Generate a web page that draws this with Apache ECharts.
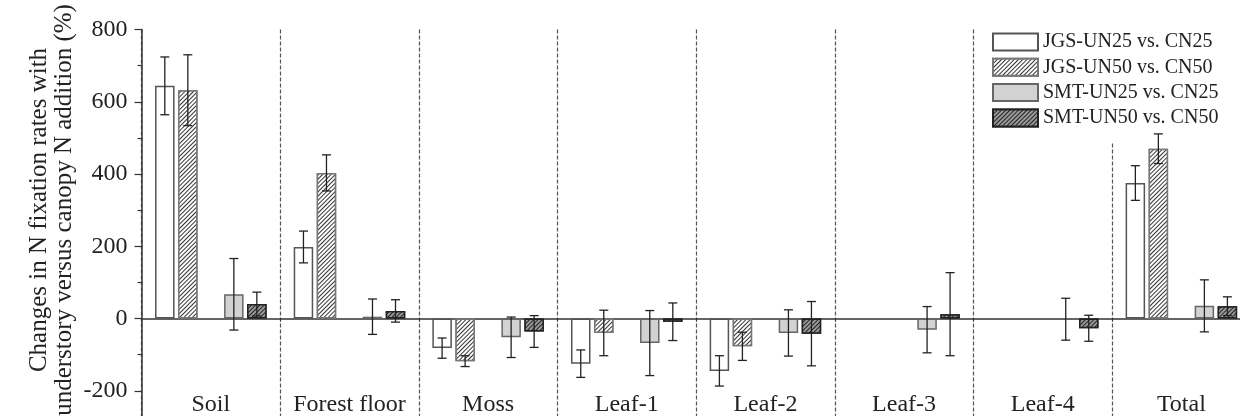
<!DOCTYPE html>
<html>
<head>
<meta charset="utf-8">
<script src="https://cdn.jsdelivr.net/npm/echarts@6/dist/echarts.min.js"></script>
<style>
html,body{margin:0;padding:0;background:#fff;}
#chart{width:1240px;height:416px;}
</style>
</head>
<body>
<div id="chart"></div>
<script>
// ---- data ----
const categories = ['Soil', 'Forest floor', 'Moss', 'Leaf-1', 'Leaf-2', 'Leaf-3', 'Leaf-4', 'Total'];
const seriesNames = ['JGS-UN25 vs. CN25', 'JGS-UN50 vs. CN50', 'SMT-UN25 vs. CN25', 'SMT-UN50 vs. CN50'];
const jgs25 = [644, 198, -82, -125, -145, null, null, 375];
const jgs25Err = [80, 44, 28, 38, 42, null, null, 48];
const jgs50 = [632, 403, -118, -40, -77, null, null, 470];
const jgs50Err = [98, 50, 15, 63, 39, null, null, 41];
const smt25 = [67, 5, -52, -68, -40, -31, -2, 35];
const smt25Err = [99, 49, 56, 90, 64, 64, 58, 72];
const smt50 = [40, 21, -36, -9, -42, 12, -27, 34];
const smt50Err = [33, 31, 44, 52, 89, 115, 36, 26];
const yTicks = [-400, 800, 200];

// ---- styles ----
const FONT = 'Liberation Serif';
const BAR_W = 19.5;
const GAP = 0.18;
const STEP = BAR_W * (1 + GAP);

const hatch = (lineColor, bg) => ({symbol: 'rect', symbolSize: 1, dashArrayX: [1, 0], dashArrayY: [1, 1.7],
  rotation: -Math.PI / 4, color: lineColor, backgroundColor: bg});

const styles = [
  {color: '#ffffff', borderColor: '#555', borderWidth: 1.5},
  {color: '#ffffff', borderColor: '#777', borderWidth: 1.5, decal: hatch('#333333', '#ffffff')},
  {color: '#d2d2d2', borderColor: '#666', borderWidth: 1.5},
  {color: '#9a9a9a', borderColor: '#222', borderWidth: 1.5, decal: hatch('#222222', '#9a9a9a')}
];

const values = [jgs25, jgs50, smt25, smt50];
const errors = [jgs25Err, jgs50Err, smt25Err, smt50Err];
const offsets = [-2, -1, 1, 2];

const series = [];
values.forEach((vals, s) => {
  series.push({
    name: seriesNames[s], type: 'bar', data: vals, barWidth: BAR_W, barGap: (GAP * 100) + '%',
    itemStyle: styles[s], z: 2
  });
  if (s === 1) {
    series.push({name: '_blank', type: 'bar', data: categories.map(() => null), barWidth: BAR_W, barGap: (GAP * 100) + '%'});
  }
});

const errData = [];
values.forEach((vals, s) => {
  vals.forEach((v, i) => {
    if (v !== null && errors[s][i] !== null) errData.push([i, v, errors[s][i], offsets[s]]);
  });
});

series.push({
  type: 'custom', name: '_err', z: 10, silent: true,
  data: errData,
  encode: {x: 0, y: 1},
  renderItem: function (params, api) {
    const ci = api.value(0), v = api.value(1), e = api.value(2), k = api.value(3);
    const hi = api.coord([ci, v + e]);
    const lo = api.coord([ci, v - e]);
    const x = hi[0] + k * STEP;
    const cap = 4.5;
    const st = {stroke: '#222', lineWidth: 1.3};
    return {type: 'group', children: [
      {type: 'line', shape: {x1: x, y1: hi[1], x2: x, y2: lo[1]}, style: st},
      {type: 'line', shape: {x1: x - cap, y1: hi[1], x2: x + cap, y2: hi[1]}, style: st},
      {type: 'line', shape: {x1: x - cap, y1: lo[1], x2: x + cap, y2: lo[1]}, style: st}
    ]};
  }
});

const chart = echarts.init(document.getElementById('chart'), null, {renderer: 'canvas'});
chart.setOption({
  animation: false,
  backgroundColor: '#fff',
  grid: {left: 141.5, right: -10.7, top: 29.5, bottom: -47, containLabel: false, outerBoundsMode: 'none'},
  legend: {
    data: seriesNames, orient: 'vertical', left: 987, top: 27,
    icon: 'rect', itemWidth: 45, itemHeight: 17, itemGap: 5.3,
    padding: [5, 5, 15, 5], backgroundColor: '#ffffff',
    textStyle: {fontFamily: FONT, fontSize: 20, color: '#222'},
    selectedMode: false
  },
  xAxis: [{
    type: 'category', data: categories,
    axisLine: {onZero: true, lineStyle: {color: '#333', width: 1.5}},
    axisTick: {show: true, length: 3, lineStyle: {color: '#333'}},
    axisLabel: {show: false},
    splitLine: {show: true, interval: 0, lineStyle: {color: '#555', type: [4, 2], width: 1.2}}
  }, {
    type: 'category', data: categories, position: 'bottom', offset: -78,
    axisLine: {show: false}, axisTick: {show: false}, splitLine: {show: false},
    axisLabel: {fontFamily: FONT, fontSize: 24, color: '#222', margin: 8, interval: 0}
  }],
  yAxis: {
    type: 'value', min: yTicks[0], max: yTicks[1], interval: yTicks[2],
    axisLine: {show: true, onZero: false, lineStyle: {color: '#333', width: 1.5}},
    axisTick: {show: true, length: 7, lineStyle: {color: '#333', width: 1.2}},
    minorTick: {show: true, splitNumber: 2, length: 4, lineStyle: {color: '#333', width: 1.2}},
    axisLabel: {fontFamily: FONT, fontSize: 24, color: '#222', margin: 14,
      formatter: v => (v < -200 ? '' : String(v))},
    splitLine: {show: false}
  },
  graphic: [{
    type: 'text', x: 52, y: 210, rotation: Math.PI / 2,
    style: {text: 'Changes in N fixation rates with\nunderstory versus canopy N addition (%)',
      fontFamily: FONT, fontSize: 25, lineHeight: 25, fill: '#222', align: 'center', verticalAlign: 'middle'}
  }],
  series: series
});
</script>
</body>
</html>
